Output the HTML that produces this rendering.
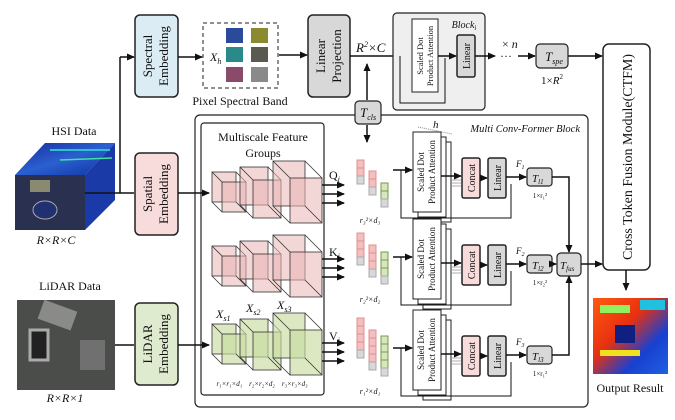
<!DOCTYPE html>
<html><head><meta charset="utf-8"><style>
html,body{margin:0;padding:0;background:#fff}
svg{display:block}
text{font-family:"Liberation Serif",serif;fill:#111}
</style></head><body>
<svg width="675" height="420" viewBox="0 0 675 420" xmlns="http://www.w3.org/2000/svg">
<defs>
<marker id="ar" markerWidth="8" markerHeight="8" refX="7" refY="4" orient="auto" markerUnits="userSpaceOnUse"><path d="M0,0.5 L8,4 L0,7.5 z" fill="#111"/></marker>
<linearGradient id="hsiTop" x1="0" y1="0" x2="1" y2="1"><stop offset="0" stop-color="#1a2a9a"/><stop offset=".5" stop-color="#2a60d0"/><stop offset="1" stop-color="#1030a0"/></linearGradient>
<linearGradient id="outG" x1="0" y1="0" x2="1" y2="1"><stop offset="0" stop-color="#ff5a10"/><stop offset=".4" stop-color="#e83010"/><stop offset=".7" stop-color="#1840d0"/><stop offset="1" stop-color="#2060e0"/></linearGradient>
<g id="cubeP" fill="#f0c0c0" fill-opacity=".6" stroke="#333" stroke-width=".8">
</g>
</defs>

<!-- top row -->
<rect x="135" y="15" width="43" height="82" rx="5" fill="#dcecf4" stroke="#222" stroke-width="1.5"/>
<text transform="translate(152,56) rotate(-90)" text-anchor="middle" font-size="13">Spectral</text>
<text transform="translate(168,56) rotate(-90)" text-anchor="middle" font-size="13">Embedding</text>

<rect x="203" y="23" width="75" height="65" fill="none" stroke="#222" stroke-dasharray="4,3"/>
<text x="210" y="61" font-size="12" font-style="italic">X<tspan font-size="8" dy="3">h</tspan></text>
<rect x="226" y="28" width="17" height="15" fill="#2a4a9a"/><rect x="251" y="28" width="17" height="15" fill="#8a8a30"/>
<rect x="226" y="47" width="17" height="15" fill="#2a8a8a"/><rect x="251" y="47" width="17" height="15" fill="#5a5a50"/>
<rect x="226" y="67" width="17" height="15" fill="#8a4a6a"/><rect x="251" y="67" width="17" height="15" fill="#8a8a8a"/>
<text x="240" y="105" text-anchor="middle" font-size="12">Pixel Spectral Band</text>

<rect x="308" y="15" width="42" height="82" rx="5" fill="#d8d8d8" stroke="#222" stroke-width="1.5"/>
<text transform="translate(325,56) rotate(-90)" text-anchor="middle" font-size="13">Linear</text>
<text transform="translate(341,56) rotate(-90)" text-anchor="middle" font-size="13">Projection</text>
<text x="356" y="52" font-size="13" font-style="italic">R<tspan font-size="8" dy="-5">2</tspan><tspan dy="5">×C</tspan></text>

<line x1="120" y1="193" x2="120" y2="57" stroke="#111" stroke-width="1.5"/>
<line x1="120" y1="57" x2="134" y2="57" stroke="#111" stroke-width="1.5" marker-end="url(#ar)"/>
<line x1="178" y1="57" x2="202" y2="57" stroke="#111" stroke-width="1.5" marker-end="url(#ar)"/>
<line x1="279" y1="55" x2="307" y2="55" stroke="#111" stroke-width="1.5" marker-end="url(#ar)"/>
<line x1="350" y1="56" x2="411" y2="56" stroke="#111" stroke-width="1.5" marker-end="url(#ar)"/>

<!-- Block -->
<rect x="393" y="13" width="92" height="97" rx="4" fill="#efefef" stroke="#222" stroke-width="1.2"/>
<text x="464" y="28" text-anchor="middle" font-size="10" font-style="italic">Block<tspan font-size="7" dy="2">i</tspan></text>
<rect x="412" y="19" width="26" height="73" fill="#fff" stroke="#222"/>
<text transform="translate(423,56) rotate(-90)" text-anchor="middle" font-size="8.5">Scaled Dot</text>
<text transform="translate(433,56) rotate(-90)" text-anchor="middle" font-size="8.5">Product Attention</text>
<rect x="457" y="35" width="18" height="42" rx="2" fill="#d8d8d8" stroke="#222" stroke-width="1.5"/>
<text transform="translate(470,56) rotate(-90)" text-anchor="middle" font-size="10">Linear</text>
<polyline points="400,56 400,103 445,103 445,58" fill="none" stroke="#111" stroke-width="1"/>
<line x1="438" y1="56" x2="456" y2="56" stroke="#111" stroke-width="1.5" marker-end="url(#ar)"/>
<line x1="475" y1="56" x2="495" y2="56" stroke="#111" stroke-width="1.5" marker-end="url(#ar)"/>
<text x="502" y="48" font-size="12">× <tspan font-style="italic">n</tspan></text>
<text x="500" y="60" font-size="12">···</text>
<line x1="518" y1="56" x2="535" y2="56" stroke="#111" stroke-width="1.5" marker-end="url(#ar)"/>
<rect x="536" y="44" width="32" height="24" rx="4" fill="#d8d8d8" stroke="#222" stroke-width="1.2"/>
<text x="545" y="61" font-size="13" font-style="italic">T<tspan font-size="8" dy="3">spe</tspan></text>
<text x="552" y="84" text-anchor="middle" font-size="11">1×<tspan font-style="italic">R</tspan><tspan font-size="7" dy="-5">2</tspan></text>
<line x1="568" y1="56" x2="602" y2="56" stroke="#111" stroke-width="1.5" marker-end="url(#ar)"/>

<!-- CTFM -->
<rect x="603" y="44" width="47" height="226" rx="6" fill="#fff" stroke="#222" stroke-width="1.5"/>
<text transform="translate(632,157) rotate(-90)" text-anchor="middle" font-size="14">Cross Token Fusion Module(CTFM)</text>
<line x1="626" y1="270" x2="626" y2="290" stroke="#111" stroke-width="1.5" marker-end="url(#ar)"/>
<rect x="593" y="298" width="75" height="76" fill="url(#outG)"/>
<rect x="600" y="305" width="30" height="8" fill="#90f060"/><rect x="615" y="325" width="20" height="18" fill="#102080"/><rect x="640" y="300" width="25" height="10" fill="#20c0e0"/><rect x="600" y="350" width="40" height="6" fill="#f0e020"/>
<text x="630" y="392" text-anchor="middle" font-size="12">Output Result</text>

<!-- T_cls -->
<line x1="367" y1="100" x2="367" y2="64" stroke="#111" stroke-width="1.5" marker-end="url(#ar)"/>
<line x1="367" y1="125" x2="367" y2="142" stroke="#111" stroke-width="1.5" marker-end="url(#ar)"/>

<!-- Multi conv former -->
<rect x="195" y="115" width="393" height="292" rx="5" fill="none" stroke="#222" stroke-width="1.2"/>
<rect x="355" y="101" width="26" height="23" rx="4" fill="#d8d8d8" stroke="#222" stroke-width="1.2"/>
<text x="360" y="117" font-size="13" font-style="italic">T<tspan font-size="8" dy="3">cls</tspan></text>
<text x="580" y="132" text-anchor="end" font-size="10.5" font-style="italic">Multi Conv-Former Block</text>
<rect x="201" y="123" width="123" height="272" rx="3" fill="none" stroke="#222" stroke-width="1.2"/>
<text x="263" y="141" text-anchor="middle" font-size="12">Multiscale Feature</text>
<text x="263" y="157" text-anchor="middle" font-size="12">Groups</text>

<!-- HSI & LiDAR -->
<text x="74" y="135" text-anchor="middle" font-size="12">HSI Data</text>
<polygon points="15,175 45,143 115,143 85,175" fill="url(#hsiTop)"/>
<polygon points="85,175 115,143 115,200 85,230" fill="#1a3aa8"/>
<rect x="15" y="175" width="70" height="55" fill="#2a3050"/>
<rect x="30" y="180" width="20" height="12" fill="#8a8a70"/><ellipse cx="45" cy="210" rx="12" ry="9" fill="#203070" stroke="#aaa"/>
<line x1="50" y1="150" x2="110" y2="150" stroke="#30c0d0" stroke-width="2"/><line x1="60" y1="160" x2="112" y2="158" stroke="#40e0a0" stroke-width="1.5"/>
<text x="56" y="244" text-anchor="middle" font-size="12" font-style="italic">R×R×C</text>
<line x1="85" y1="193" x2="134" y2="193" stroke="#111" stroke-width="1.5"/>
<rect x="135" y="153" width="43" height="82" rx="5" fill="#f8dcdc" stroke="#222" stroke-width="1.5"/>
<text transform="translate(152,194) rotate(-90)" text-anchor="middle" font-size="13">Spatial</text>
<text transform="translate(168,194) rotate(-90)" text-anchor="middle" font-size="13">Embedding</text>
<line x1="178" y1="193" x2="209" y2="193" stroke="#111" stroke-width="1.5" marker-end="url(#ar)"/>

<text x="70" y="290" text-anchor="middle" font-size="12">LiDAR Data</text>
<rect x="17" y="300" width="98" height="90" fill="#4a4d4a"/>
<rect x="40" y="305" width="35" height="20" fill="#8a8a88" transform="rotate(20 57 315)"/><rect x="30" y="330" width="18" height="30" fill="#222" stroke="#aaa" stroke-width="3"/><rect x="80" y="340" width="25" height="30" fill="#707070"/>
<text x="65" y="402" text-anchor="middle" font-size="12" font-style="italic">R×R×1</text>
<line x1="115" y1="345" x2="134" y2="345" stroke="#111" stroke-width="1.5"/>
<rect x="135" y="303" width="43" height="82" rx="5" fill="#dfebcf" stroke="#222" stroke-width="1.5"/>
<text transform="translate(152,344) rotate(-90)" text-anchor="middle" font-size="13">LiDAR</text>
<text transform="translate(168,344) rotate(-90)" text-anchor="middle" font-size="13">Embedding</text>
<line x1="178" y1="345" x2="209" y2="345" stroke="#111" stroke-width="1.5" marker-end="url(#ar)"/>

<!-- cubes rows -->
<g id="cubes" stroke="#333" stroke-width=".8">
 <g fill="#eab4b4" fill-opacity=".55">
 <rect x="212" y="172" width="24" height="30"/><rect x="222" y="182" width="24" height="30"/>
 <line x1="212" y1="172" x2="222" y2="182"/><line x1="236" y1="172" x2="246" y2="182"/><line x1="212" y1="202" x2="222" y2="212"/><line x1="236" y1="202" x2="246" y2="212"/>
 <rect x="240" y="167" width="28" height="38"/><rect x="253" y="180" width="28" height="38"/>
 <line x1="240" y1="167" x2="253" y2="180"/><line x1="268" y1="167" x2="281" y2="180"/><line x1="240" y1="205" x2="253" y2="218"/><line x1="268" y1="205" x2="281" y2="218"/>
 <rect x="273" y="161" width="32" height="45"/><rect x="290" y="178" width="32" height="45"/>
 <line x1="273" y1="161" x2="290" y2="178"/><line x1="305" y1="161" x2="322" y2="178"/><line x1="273" y1="206" x2="290" y2="223"/><line x1="305" y1="206" x2="322" y2="223"/>
 </g>
</g>
<use href="#cubes" y="74"/>
<g transform="translate(0,152)" stroke="#333" stroke-width=".8">
 <g fill="#c8dca0" fill-opacity=".65">
 <rect x="212" y="172" width="24" height="30"/><rect x="222" y="182" width="24" height="30"/>
 <line x1="212" y1="172" x2="222" y2="182"/><line x1="236" y1="172" x2="246" y2="182"/><line x1="212" y1="202" x2="222" y2="212"/><line x1="236" y1="202" x2="246" y2="212"/>
 <rect x="240" y="167" width="28" height="38"/><rect x="253" y="180" width="28" height="38"/>
 <line x1="240" y1="167" x2="253" y2="180"/><line x1="268" y1="167" x2="281" y2="180"/><line x1="240" y1="205" x2="253" y2="218"/><line x1="268" y1="205" x2="281" y2="218"/>
 <rect x="273" y="161" width="32" height="45"/><rect x="290" y="178" width="32" height="45"/>
 <line x1="273" y1="161" x2="290" y2="178"/><line x1="305" y1="161" x2="322" y2="178"/><line x1="273" y1="206" x2="290" y2="223"/><line x1="305" y1="206" x2="322" y2="223"/>
 </g>
</g>
<text x="216" y="318" font-size="12" font-style="italic">X<tspan font-size="8" dy="3">s1</tspan></text>
<text x="246" y="312" font-size="12" font-style="italic">X<tspan font-size="8" dy="3">s2</tspan></text>
<text x="277" y="309" font-size="12" font-style="italic">X<tspan font-size="8" dy="3">s3</tspan></text>
<text x="262" y="386" text-anchor="middle" font-size="7" font-style="italic">r₁×r₁×d₁ &#160;&#160; r₂×r₂×d₂ &#160;&#160; r₃×r₃×d₃</text>

<!-- Q K V arrows -->
<g stroke="#111" stroke-width="1.5">
<line x1="322" y1="185" x2="344" y2="185" marker-end="url(#ar)"/><line x1="322" y1="194" x2="344" y2="194" marker-end="url(#ar)"/><line x1="322" y1="203" x2="344" y2="203" marker-end="url(#ar)"/>
<line x1="322" y1="259" x2="344" y2="259" marker-end="url(#ar)"/><line x1="322" y1="268" x2="344" y2="268" marker-end="url(#ar)"/><line x1="322" y1="277" x2="344" y2="277" marker-end="url(#ar)"/>
<line x1="322" y1="343" x2="344" y2="343" marker-end="url(#ar)"/><line x1="322" y1="352" x2="344" y2="352" marker-end="url(#ar)"/><line x1="322" y1="361" x2="344" y2="361" marker-end="url(#ar)"/>
</g>
<text x="329" y="179" font-size="12">Q<tspan font-size="8" dy="3" font-style="italic">i</tspan></text>
<text x="329" y="256" font-size="12">K<tspan font-size="8" dy="3" font-style="italic">i</tspan></text>
<text x="329" y="340" font-size="12">V<tspan font-size="8" dy="3" font-style="italic">i</tspan></text>

<!-- tokens -->
<g stroke-width="1">
<g fill="#f2c0c0" stroke="#e09090">
<rect x="357" y="160" width="7" height="8"/><rect x="357" y="168" width="7" height="8"/>
<rect x="369" y="171" width="7" height="8"/><rect x="369" y="179" width="7" height="8"/>
<rect x="357" y="233" width="7" height="8"/><rect x="357" y="241" width="7" height="8"/><rect x="357" y="249" width="7" height="8"/>
<rect x="369" y="245" width="7" height="8"/><rect x="369" y="253" width="7" height="8"/><rect x="369" y="261" width="7" height="8"/>
<rect x="357" y="318" width="7" height="8"/><rect x="357" y="326" width="7" height="8"/><rect x="357" y="334" width="7" height="8"/><rect x="357" y="342" width="7" height="8"/>
<rect x="369" y="330" width="7" height="8"/><rect x="369" y="338" width="7" height="8"/><rect x="369" y="346" width="7" height="8"/><rect x="369" y="354" width="7" height="8"/>
</g>
<g fill="#d6e6c0" stroke="#7a9a40">
<rect x="381" y="183" width="7" height="8"/><rect x="381" y="191" width="7" height="8"/>
<rect x="381" y="252" width="7" height="8"/><rect x="381" y="260" width="7" height="8"/><rect x="381" y="268" width="7" height="8"/>
<rect x="381" y="336" width="7" height="8"/><rect x="381" y="344" width="7" height="8"/><rect x="381" y="352" width="7" height="8"/><rect x="381" y="360" width="7" height="8"/>
</g>
<g fill="#d8d8d8" stroke="#aaa">
<rect x="357" y="176" width="7" height="8"/><rect x="369" y="187" width="7" height="8"/><rect x="381" y="199" width="7" height="8"/>
<rect x="357" y="257" width="7" height="8"/><rect x="369" y="269" width="7" height="8"/><rect x="381" y="276" width="7" height="8"/>
<rect x="357" y="350" width="7" height="8"/><rect x="369" y="362" width="7" height="8"/><rect x="381" y="368" width="7" height="8"/>
</g>
</g>
<text x="370" y="223" text-anchor="middle" font-size="8" font-style="italic">r₃²×d₃</text>
<text x="370" y="302" text-anchor="middle" font-size="8" font-style="italic">r₂²×d₂</text>
<text x="370" y="394" text-anchor="middle" font-size="8" font-style="italic">r₁²×d₁</text>

<!-- attention rows -->
<g id="att">
<rect x="423" y="142" width="28" height="80" fill="#fff" stroke="#222"/>
<rect x="418" y="137" width="28" height="80" fill="#fff" stroke="#222"/>
<rect x="413" y="132" width="28" height="80" fill="#fff" stroke="#222"/>
<text transform="translate(424,172) rotate(-90)" text-anchor="middle" font-size="9">Scaled Dot</text>
<text transform="translate(435,172) rotate(-90)" text-anchor="middle" font-size="9">Product Attention</text>
<line x1="393" y1="170" x2="412" y2="170" stroke="#111" stroke-width="1.5" marker-end="url(#ar)"/>
<polyline points="401,170 401,218 511,218 511,184" fill="none" stroke="#111" stroke-width="1"/>
<line x1="441" y1="176" x2="461" y2="176" stroke="#111" stroke-width="1.5" marker-end="url(#ar)"/>
<g stroke="#888" stroke-width=".7"><line x1="451" y1="180" x2="461" y2="180"/><line x1="451" y1="183" x2="461" y2="183"/><line x1="451" y1="186" x2="461" y2="186"/></g>
<rect x="462" y="158" width="18" height="40" rx="2" fill="#f8dcdc" stroke="#222" stroke-width="1.5"/>
<text transform="translate(475,178) rotate(-90)" text-anchor="middle" font-size="10">Concat</text>
<line x1="480" y1="178" x2="487" y2="178" stroke="#111" stroke-width="1.5" marker-end="url(#ar)"/>
<rect x="488" y="158" width="18" height="40" rx="2" fill="#d8d8d8" stroke="#222" stroke-width="1.5"/>
<text transform="translate(501,178) rotate(-90)" text-anchor="middle" font-size="10">Linear</text>
<line x1="506" y1="177" x2="526" y2="177" stroke="#111" stroke-width="1.5" marker-end="url(#ar)"/>
<rect x="527" y="168" width="25" height="18" rx="3" fill="#d8d8d8" stroke="#222" stroke-width="1.2"/>
</g>
<use href="#att" y="87"/>
<use href="#att" y="178"/>
<text x="433" y="128" font-size="11" font-style="italic">h</text>
<line x1="418" y1="127" x2="452" y2="134" stroke="#888" stroke-dasharray="1,1"/>
<text x="516" y="167" font-size="9" font-style="italic">F<tspan font-size="6" dy="2">1</tspan></text>
<text x="516" y="254" font-size="9" font-style="italic">F<tspan font-size="6" dy="2">2</tspan></text>
<text x="516" y="345" font-size="9" font-style="italic">F<tspan font-size="6" dy="2">3</tspan></text>
<text x="532" y="182" font-size="11" font-style="italic">T<tspan font-size="7" dy="2">l1</tspan></text>
<text x="532" y="269" font-size="11" font-style="italic">T<tspan font-size="7" dy="2">l2</tspan></text>
<text x="532" y="360" font-size="11" font-style="italic">T<tspan font-size="7" dy="2">l3</tspan></text>
<text x="540" y="198" text-anchor="middle" font-size="7">1×r₁²</text>
<text x="540" y="285" text-anchor="middle" font-size="7">1×r₂²</text>
<text x="540" y="376" text-anchor="middle" font-size="7">1×r₁²</text>

<!-- fusion -->
<polyline points="552,177 569,177 569,252" fill="none" stroke="#111" stroke-width="1.5" marker-end="url(#ar)"/>
<line x1="552" y1="264" x2="556" y2="264" stroke="#111" stroke-width="1.5" marker-end="url(#ar)"/>
<polyline points="552,355 569,355 569,276" fill="none" stroke="#111" stroke-width="1.5" marker-end="url(#ar)"/>
<rect x="557" y="253" width="24" height="23" rx="4" fill="#d8d8d8" stroke="#222" stroke-width="1.2"/>
<text x="560" y="269" font-size="11" font-style="italic">T<tspan font-size="7" dy="2">fus</tspan></text>
<line x1="581" y1="264" x2="602" y2="264" stroke="#111" stroke-width="1.5" marker-end="url(#ar)"/>
</svg>
</body></html>
